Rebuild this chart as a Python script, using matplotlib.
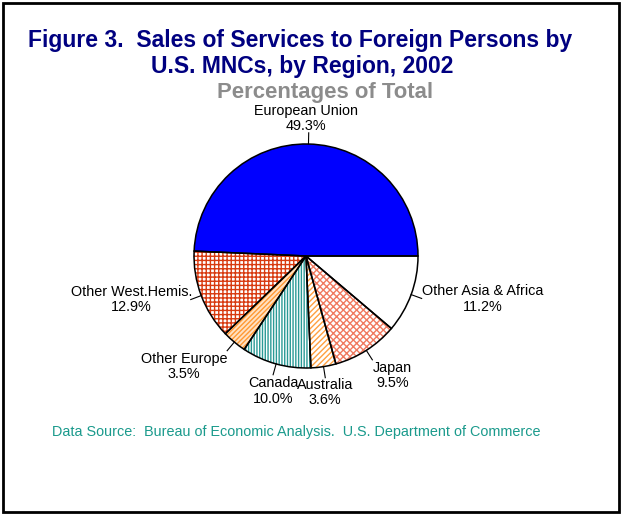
import numpy as np
import matplotlib.pyplot as plt
from matplotlib.patches import Rectangle

plt.rcParams['font.family'] = ['Liberation Sans', 'DejaVu Sans']
plt.rcParams['hatch.linewidth'] = 1.0

regions = ['European Union', 'Other West.Hemis.', 'Other Europe', 'Canada',
           'Australia', 'Japan', 'Other Asia & Africa']
shares = [49.3, 12.9, 3.5, 10.0, 3.6, 9.5, 11.2]
face_colors = ['#0000ff', 'white', '#ffe2c4', 'white', 'white', 'white', 'white']
hatch_colors = ['#0000ff', '#d83a10', '#ff9933', '#2a9a96', '#ffa040', '#f07a60', 'white']
hatches = [None, '++++', '///////', '||||||', '//////', 'xxxxx', None]

# label positions (data units, radius = 1)
label_xy = [(0.0, 1.23), (-1.56, -0.39), (-1.09, -0.99), (-0.295, -1.205),
            (0.17, -1.22), (0.77, -1.07), (1.58, -0.384)]

W, H = 624, 514
fig = plt.figure(figsize=(W / 100, H / 100), dpi=100)

# pie centre at pixel (306, 256), radius 112 px
R = 112
cx, cy = 306, H - 256
ax = fig.add_axes([(cx - 1.5 * R) / W, (cy - 1.5 * R) / H, 3 * R / W, 3 * R / H])

wedges, _ = ax.pie(shares, startangle=0, counterclock=True, radius=1,
                   wedgeprops=dict(linewidth=0))
for w, fc, hc, h in zip(wedges, face_colors, hatch_colors, hatches):
    w.set_facecolor(fc)
    w.set_edgecolor(hc)
    if h:
        w.set_hatch(h)

# outlines on top
outl, _ = ax.pie(shares, startangle=0, counterclock=True, radius=1,
                 wedgeprops=dict(fill=False, edgecolor='black', linewidth=1.1))

# labels and leader lines
for w, name, val, (lx, ly) in zip(wedges, regions, shares, label_xy):
    ang = np.deg2rad((w.theta1 + w.theta2) / 2)
    x0, y0 = np.cos(ang), np.sin(ang)
    ax.plot([x0, 1.1 * x0], [y0, 1.1 * y0], color='black', lw=0.8)
    ax.text(lx, ly, f'{name}\n{val:.1f}%', ha='center', va='center',
            fontsize=10.4, linespacing=1.1)

ax.set_xlim(-1.5, 1.5)
ax.set_ylim(-1.5, 1.5)
ax.set_aspect('equal')
ax.axis('off')

fig.text(300 / W, 1 - 47 / H, 'Figure 3.  Sales of Services to Foreign Persons by',
         ha='center', va='baseline', fontsize=16.5, fontweight='bold', color='#000080')
fig.text(302 / W, 1 - 73 / H, 'U.S. MNCs, by Region, 2002',
         ha='center', va='baseline', fontsize=16.5, fontweight='bold', color='#000080')
fig.text(325 / W, 1 - 98 / H, 'Percentages of Total',
         ha='center', va='baseline', fontsize=15.9, fontweight='bold', color='#8c8c8c')
fig.text(52 / W, 1 - 436 / H,
         'Data Source:  Bureau of Economic Analysis.  U.S. Department of Commerce',
         ha='left', va='baseline', fontsize=10.4, color='#1a9a8c')

fig.add_artist(Rectangle((3 / W, 2 / H), 616 / W, 509 / H, transform=fig.transFigure,
                         fill=False, edgecolor='black', linewidth=2))

fig.savefig('out.png', dpi=100)
